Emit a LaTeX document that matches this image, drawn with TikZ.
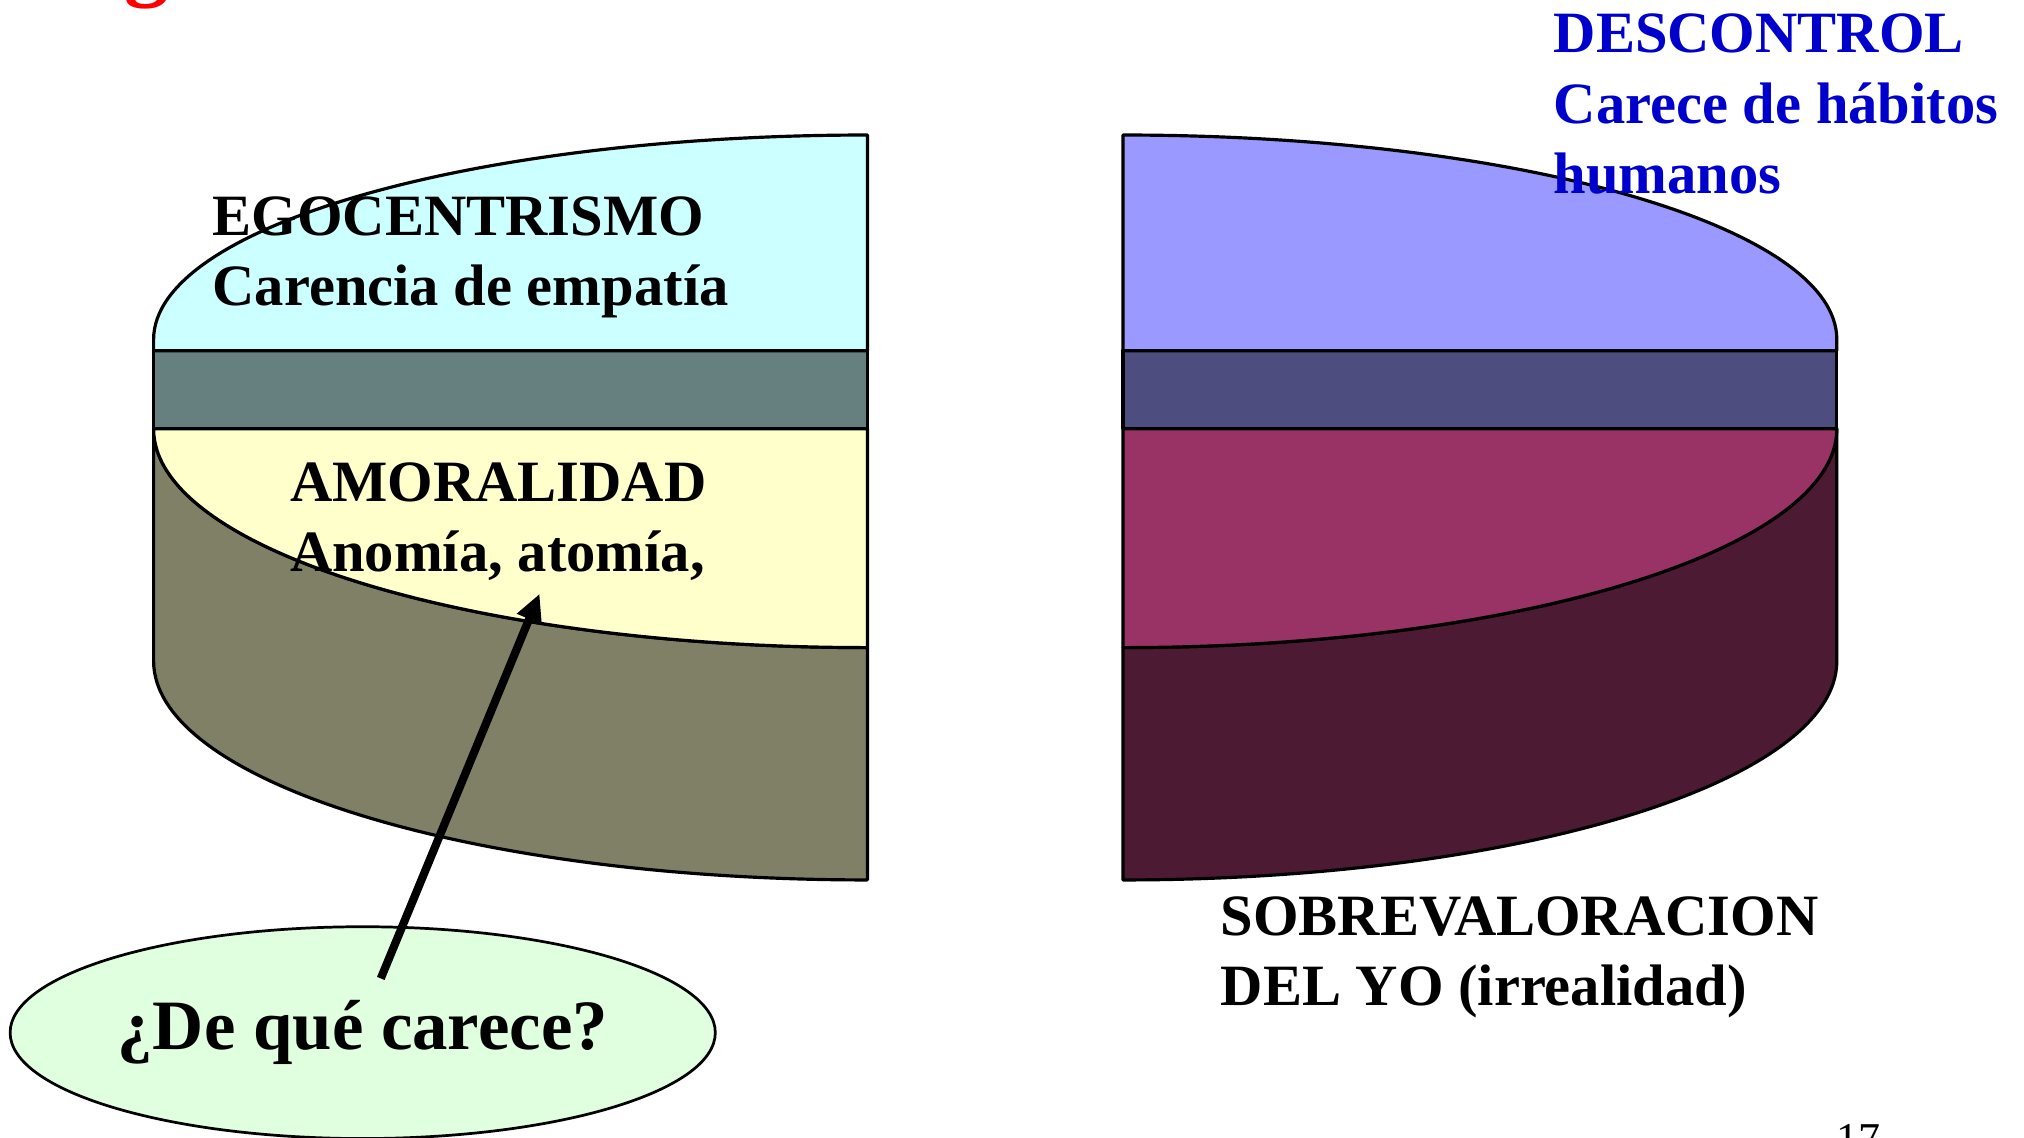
\documentclass[tikz,border=0pt]{standalone}
\usepackage{fontspec}
\setmainfont{Liberation Serif}
\usetikzlibrary{arrows.meta,shapes.geometric}

\definecolor{ice}{HTML}{CCFFFF}
\definecolor{teal}{HTML}{668080}
\definecolor{cream}{HTML}{FFFFCC}
\definecolor{olive}{HTML}{808066}
\definecolor{lavender}{HTML}{9999FF}
\definecolor{slate}{HTML}{4D4D80}
\definecolor{plum}{HTML}{993366}
\definecolor{wine}{HTML}{4D1A33}
\definecolor{ctrlblue}{HTML}{0000CC}
\definecolor{mint}{HTML}{DFFFDF}

\begin{document}
\begin{tikzpicture}[x=0.01cm,y=0.01cm,
    slice/.style={draw=black,line width=0.7pt,line join=round},
    lbl/.style={inner sep=0,anchor=base west,align=left,
      font=\bfseries\fontsize{12.9}{15.5}\selectfont},
    ask/.style={ellipse,draw=black,line width=0.6pt,fill=mint,inner sep=0,
      minimum width=5.46cm,minimum height=1.64cm,
      font=\bfseries\fontsize{15.6}{18}\selectfont},
    pointer/.style={-{Triangle[length=6pt,width=5.5pt]},line width=1.8pt}
  ]
  \useasboundingbox (0,0) rectangle (1568,881);

  \path[slice,fill=olive] (119,548.9) -- (119,368.9)
    arc[start angle=180,end angle=270,x radius=553,y radius=169.6] -- (672,379.3)
    arc[start angle=270,end angle=180,x radius=553,y radius=169.6] -- cycle;
  \path[slice,fill=cream] (119,548.9)
    arc[start angle=180,end angle=270,x radius=553,y radius=169.6] -- (672,548.9) -- cycle;
  \path[slice,fill=teal] (119,548.9) rectangle (672,609.3);
  \path[slice,fill=ice] (119,609.3) -- (119,618)
    arc[start angle=180,end angle=90,x radius=553,y radius=158.4] -- (672,609.3) -- cycle;

  \path[slice,fill=wine] (1423,548.9) -- (1423,368.9)
    arc[start angle=0,end angle=-90,x radius=553,y radius=169.6] -- (870,379.3)
    arc[start angle=-90,end angle=0,x radius=553,y radius=169.6] -- cycle;
  \path[slice,fill=plum] (1423,548.9)
    arc[start angle=0,end angle=-90,x radius=553,y radius=169.6] -- (870,548.9) -- cycle;
  \path[slice,fill=slate] (870,548.9) rectangle (1423,609.3);
  \path[slice,fill=lavender] (1423,609.3) -- (1423,618)
    arc[start angle=0,end angle=90,x radius=553,y radius=158.4] -- (870,609.3) -- cycle;

  \node[lbl] (ego) at (164,644) {EGOCENTRISMO\\Carencia de empatía};
  \node[lbl] (amoral) at (224,438) {AMORALIDAD\\Anomía, atomía,};
  \node[lbl,text=ctrlblue] (descontrol) at (1203,731) {DESCONTROL\\Carece de hábitos\\humanos};
  \node[lbl] (sobre) at (945,102) {SOBREVALORACION\\DEL YO (irrealidad)};

  \node[inner sep=0,anchor=base west,text=red,
    font=\bfseries\fontsize{19.6}{20}\selectfont] (title) at (96,889) {g};
  \node[inner sep=0,anchor=base west,font=\fontsize{9.7}{10}\selectfont] (page) at (1422,-13) {17};

  \node[ask] (question) at (281,81) {¿De qué carece?};
  \coordinate (tail) at (295,123);
  \coordinate (tip) at (418,421);
  \draw[pointer] (tail) -- (tip);
\end{tikzpicture}
\end{document}
